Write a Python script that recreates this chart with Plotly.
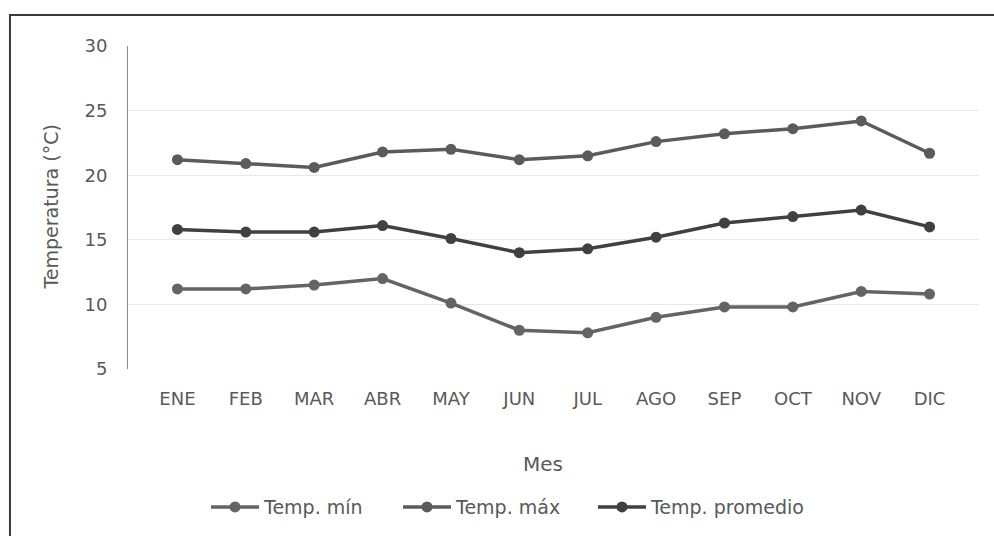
import plotly.graph_objects as go

# Monthly temperatures (°C)
meses = ["ENE", "FEB", "MAR", "ABR", "MAY", "JUN", "JUL", "AGO", "SEP", "OCT", "NOV", "DIC"]
temp_min = [11.2, 11.2, 11.5, 12.0, 10.1, 8.0, 7.8, 9.0, 9.8, 9.8, 11.0, 10.8]
temp_max = [21.2, 20.9, 20.6, 21.8, 22.0, 21.2, 21.5, 22.6, 23.2, 23.6, 24.2, 21.7]
temp_prom = [15.8, 15.6, 15.6, 16.1, 15.1, 14.0, 14.3, 15.2, 16.3, 16.8, 17.3, 16.0]

series = [
    ("Temp. mín", temp_min, "#646464"),
    ("Temp. máx", temp_max, "#5b5b5b"),
    ("Temp. promedio", temp_prom, "#404040"),
]

FONT = "DejaVu Sans"
TXT = "#595959"

# one legend box per series so the entries sit evenly along the bottom
legend_ids = ["legend", "legend2", "legend3"]
legend_x = [0.0917, 0.3173, 0.5464]

fig = go.Figure()
for (name, vals, color), lid in zip(series, legend_ids):
    fig.add_trace(go.Scatter(
        x=meses, y=vals, name=name, mode="lines+markers",
        line=dict(color=color, width=3.5),
        marker=dict(color=color, size=11),
        legend=lid,
    ))

legend_style = dict(
    orientation="h", xanchor="left", y=-0.423, yanchor="middle",
    font=dict(family=FONT, size=19, color=TXT),
    itemwidth=48, bgcolor="rgba(0,0,0,0)",
)

fig.update_layout(
    width=994, height=536,
    margin=dict(l=128, r=15, t=46, b=166),
    paper_bgcolor="white", plot_bgcolor="white",
    font=dict(family=FONT, size=18, color=TXT),
    showlegend=True,
    xaxis=dict(
        type="category", showgrid=False, showline=False, zeroline=False,
        ticks="", ticklabelstandoff=17,
        tickfont=dict(family=FONT, size=18, color=TXT),
    ),
    yaxis=dict(
        range=[5, 30], dtick=5, showgrid=True, gridcolor="#e8e8e8", gridwidth=1,
        zeroline=False, showline=True, linecolor="#8c8c8c", linewidth=1,
        ticks="", ticklabelstandoff=16,
        tickfont=dict(family=FONT, size=18, color=TXT),
    ),
    annotations=[
        dict(text="Mes", xref="paper", yref="paper", x=0.4877, y=-0.293,
             showarrow=False, font=dict(family=FONT, size=20, color=TXT),
             xanchor="center", yanchor="middle"),
        dict(text="Temperatura (°C)", xref="paper", yref="paper", x=-0.0916, y=0.5,
             textangle=-90, showarrow=False, font=dict(family=FONT, size=19, color=TXT),
             xanchor="center", yanchor="middle"),
    ],
    shapes=[
        dict(type="rect", xref="paper", yref="paper",
             x0=-0.1387, x1=1.2, y0=1.0957, y1=-0.7,
             line=dict(color="#3a3a3a", width=2), fillcolor="rgba(0,0,0,0)"),
    ],
)
for lid, lx in zip(legend_ids, legend_x):
    fig.update_layout({lid: dict(legend_style, x=lx)})

fig.write_html("out.html")
